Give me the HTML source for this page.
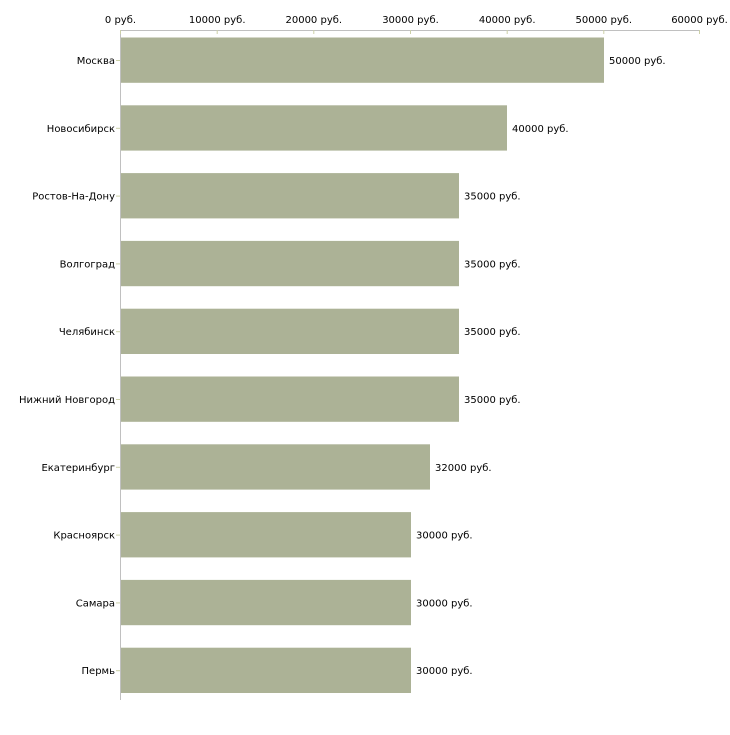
<!DOCTYPE html>
<html><head><meta charset="utf-8"><style>
body{margin:0;background:#fff}
svg text{font-family:"DejaVu Sans","Liberation Sans",sans-serif;font-size:10px;fill:#000}
</style></head><body>
<svg width="730" height="730" xmlns="http://www.w3.org/2000/svg">
<line x1="120.5" y1="30.5" x2="700" y2="30.5" stroke="#c0c0c0"/>
<line x1="120.5" y1="30" x2="120.5" y2="700" stroke="#c0c0c0"/>
<g stroke="#ccd0a8">
<line x1="120.5" y1="30" x2="120.5" y2="34"/>
<line x1="217.2" y1="30" x2="217.2" y2="34"/>
<line x1="313.8" y1="30" x2="313.8" y2="34"/>
<line x1="410.5" y1="30" x2="410.5" y2="34"/>
<line x1="507.2" y1="30" x2="507.2" y2="34"/>
<line x1="603.8" y1="30" x2="603.8" y2="34"/>
<line x1="699.5" y1="30" x2="699.5" y2="34"/>
</g>
<g text-anchor="middle">
<text x="120.5" y="23">0 руб.</text>
<text x="217.2" y="23">10000 руб.</text>
<text x="313.8" y="23">20000 руб.</text>
<text x="410.5" y="23">30000 руб.</text>
<text x="507.2" y="23">40000 руб.</text>
<text x="603.8" y="23">50000 руб.</text>
<text x="699.5" y="23">60000 руб.</text>
</g>
<g fill="#acb296">
<rect x="121" y="37.5" width="483" height="45.3"/>
<rect x="121" y="105.3" width="386" height="45.3"/>
<rect x="121" y="173.1" width="338" height="45.3"/>
<rect x="121" y="240.9" width="338" height="45.3"/>
<rect x="121" y="308.7" width="338" height="45.3"/>
<rect x="121" y="376.5" width="338" height="45.3"/>
<rect x="121" y="444.3" width="309" height="45.3"/>
<rect x="121" y="512.1" width="290" height="45.3"/>
<rect x="121" y="579.9" width="290" height="45.3"/>
<rect x="121" y="647.7" width="290" height="45.3"/>
</g>
<g stroke="#ccd0a8">
<line x1="116" y1="60.5" x2="120" y2="60.5"/>
<line x1="116" y1="128.3" x2="120" y2="128.3"/>
<line x1="116" y1="196.1" x2="120" y2="196.1"/>
<line x1="116" y1="263.9" x2="120" y2="263.9"/>
<line x1="116" y1="331.7" x2="120" y2="331.7"/>
<line x1="116" y1="399.5" x2="120" y2="399.5"/>
<line x1="116" y1="467.3" x2="120" y2="467.3"/>
<line x1="116" y1="535.1" x2="120" y2="535.1"/>
<line x1="116" y1="602.9" x2="120" y2="602.9"/>
<line x1="116" y1="670.7" x2="120" y2="670.7"/>
</g>
<g text-anchor="end">
<text x="115" y="64">Москва</text>
<text x="115" y="131.8">Новосибирск</text>
<text x="115" y="199.6">Ростов-На-Дону</text>
<text x="115" y="267.4">Волгоград</text>
<text x="115" y="335.2">Челябинск</text>
<text x="115" y="403">Нижний Новгород</text>
<text x="115" y="470.8">Екатеринбург</text>
<text x="115" y="538.6">Красноярск</text>
<text x="115" y="606.4">Самара</text>
<text x="115" y="674.2">Пермь</text>
</g>
<g>
<text x="609" y="64">50000 руб.</text>
<text x="512" y="131.8">40000 руб.</text>
<text x="464" y="199.6">35000 руб.</text>
<text x="464" y="267.4">35000 руб.</text>
<text x="464" y="335.2">35000 руб.</text>
<text x="464" y="403">35000 руб.</text>
<text x="435" y="470.8">32000 руб.</text>
<text x="416" y="538.6">30000 руб.</text>
<text x="416" y="606.4">30000 руб.</text>
<text x="416" y="674.2">30000 руб.</text>
</g>
</svg>
</body></html>
